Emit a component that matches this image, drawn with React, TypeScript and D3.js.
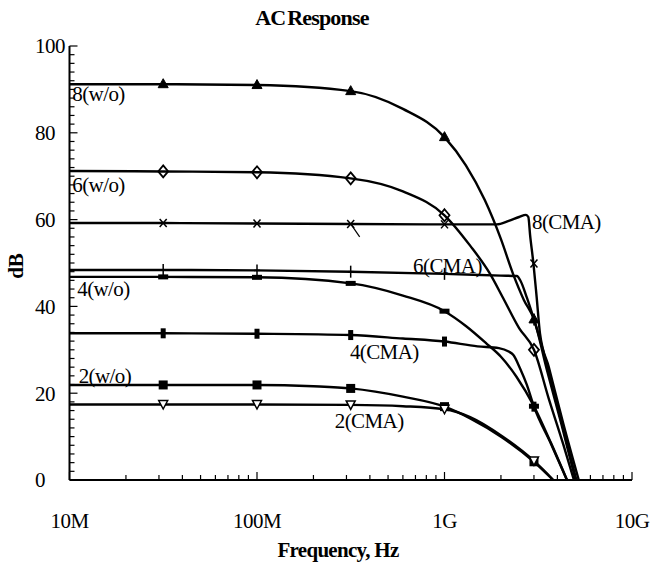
import React from "react";
import * as d3 from "d3";

const W = 650;
const H = 569;

// Axis ticks
const xTickValues = [1e7, 1e8, 1e9, 1e10];
const xTickLabels = ["10M", "100M", "1G", "10G"];
const yTickValues = [0, 20, 40, 60, 80, 100];

// Marker frequencies (same for all series)
const markerFreqs = [3.16e7, 1e8, 3.16e8, 1e9, 3e9];

// Curves: [frequency Hz, dB]
const curve8wo: [number, number][] = [
  [1e7, 91.2], [3.16e7, 91.2], [1e8, 91.0], [3.16e8, 89.6], [6e8, 85.5], [1e9, 79],
  [1.3e9, 72.5], [1.64e9, 64.5], [2e9, 55.5], [2.32e9, 47.5], [2.65e9, 41.5], [3e9, 37],
  [3.5e9, 25.7], [4.2e9, 12.9], [5e9, 0],
];
const marks8wo = [91.2, 91.0, 89.6, 79, 37];

const curve6wo: [number, number][] = [
  [1e7, 71.2], [3.16e7, 71.1], [1e8, 70.9], [3.16e8, 69.5], [6e8, 66.5], [1e9, 61],
  [1.37e9, 54], [1.75e9, 47.5], [2.05e9, 42], [2.5e9, 35], [3e9, 30], [3.6e9, 18.7],
  [4.3e9, 8.2], [4.9e9, 0],
];
const marks6wo = [71.1, 70.9, 69.5, 61, 30];

const curve8cma: [number, number][] = [
  [1e7, 59.2], [3.16e7, 59.2], [1e8, 59.1], [3.16e8, 59.0], [1e9, 58.9], [1.9e9, 58.9],
  [2.2e9, 59.7], [2.5e9, 60.6], [2.72e9, 61.1], [2.8e9, 60.6], [2.86e9, 56.5], [2.98e9, 49.9],
  [3.1e9, 42.2], [3.23e9, 33.8], [3.6e9, 26], [4.3e9, 13], [5.2e9, 0],
];
const marks8cma = [59.2, 59.1, 59.0, 58.9, 49.9];

const curve6cma: [number, number][] = [
  [1e7, 48.4], [3.16e7, 48.4], [1e8, 48.3], [3.16e8, 48.0], [1e9, 47.5], [2e9, 47.1],
  [2.43e9, 47.0], [2.55e9, 45.8], [2.75e9, 42], [3e9, 37], [3.3e9, 31], [3.8e9, 20.9],
  [4.4e9, 10.1], [5.05e9, 0],
];
const marks6cma = [48.4, 48.3, 48.0, 47.5, 37];

const curve4wo: [number, number][] = [
  [1e7, 46.8], [3.16e7, 46.8], [1e8, 46.7], [3.16e8, 45.3], [6e8, 42.5], [1e9, 38.9],
  [1.3e9, 35.5], [1.67e9, 31.5], [2e9, 28.4], [2.42e9, 23.8], [3e9, 17], [3.7e9, 8.5],
  [4.5e9, 0],
];
const marks4wo = [46.8, 46.7, 45.3, 38.9, 17];

const curve4cma: [number, number][] = [
  [1e7, 33.8], [3.16e7, 33.8], [1e8, 33.7], [3.16e8, 33.4], [6e8, 32.6], [1e9, 31.9],
  [1.5e9, 30.8], [1.95e9, 30.4], [2.2e9, 29.6], [2.33e9, 28.8], [2.53e9, 25.7],
  [2.75e9, 21.9], [3e9, 16.9], [3.7e9, 8.3], [4.5e9, 0],
];
const marks4cma = [33.8, 33.7, 33.4, 31.9, 16.9];

const curve2wo: [number, number][] = [
  [1e7, 21.9], [3.16e7, 21.9], [1e8, 21.9], [2e8, 21.6], [3.16e8, 21.1], [6e8, 19.2],
  [1e9, 16.9], [1.37e9, 14.2], [2.03e9, 9.8], [3e9, 4.2], [3.8e9, 0],
];
const marks2wo = [21.9, 21.9, 21.1, 16.9, 4.2];

const curve2cma: [number, number][] = [
  [1e7, 17.4], [3.16e7, 17.4], [1e8, 17.4], [3.16e8, 17.3], [6e8, 17.0], [1e9, 16.3],
  [1.37e9, 14.5], [2.03e9, 10.1], [3e9, 4.4], [3.8e9, 0],
];
const marks2cma = [17.4, 17.4, 17.3, 16.3, 4.4];

// Curve labels anchored in data coordinates
const labelTexts = ["8(w/o)", "6(w/o)", "4(w/o)", "2(w/o)", "8(CMA)", "6(CMA)", "4(CMA)", "2(CMA)"];
const labelFreqs = [1.035e7, 1.035e7, 1.1e7, 1.12e7, 2.93e9, 6.8e8, 3.13e8, 2.6e8];
const labelDbs = [87.3, 66.4, 42.4, 22.4, 57.8, 47.7, 27.9, 12.0];

type MType = "triUp" | "diamond" | "x" | "plus" | "hbar" | "vbar" | "square" | "triDown";

const series: { pts: [number, number][]; marks: number[]; type: MType }[] = [
  { pts: curve8wo, marks: marks8wo, type: "triUp" },
  { pts: curve6wo, marks: marks6wo, type: "diamond" },
  { pts: curve8cma, marks: marks8cma, type: "x" },
  { pts: curve6cma, marks: marks6cma, type: "plus" },
  { pts: curve4wo, marks: marks4wo, type: "hbar" },
  { pts: curve4cma, marks: marks4cma, type: "vbar" },
  { pts: curve2wo, marks: marks2wo, type: "square" },
  { pts: curve2cma, marks: marks2cma, type: "triDown" },
];

const x = d3.scaleLog().domain([1e7, 1e10]).range([69.5, 632]);
const y = d3.scaleLinear().domain([0, 100]).range([480, 46]);

const line = d3
  .line<[number, number]>()
  .x((d) => x(d[0]))
  .y((d) => y(d[1]))
  .curve(d3.curveMonotoneX);

const FONT = '"Liberation Serif"';

function Marker({ type, cx, cy }: { type: MType; cx: number; cy: number }) {
  const s = { stroke: "#000", strokeWidth: 1.8 };
  switch (type) {
    case "triUp":
      return <polygon points={`${cx},${cy - 5.5} ${cx - 5},${cy + 3.5} ${cx + 5},${cy + 3.5}`} fill="#000" {...s} strokeWidth={1} />;
    case "diamond":
      return <polygon points={`${cx},${cy - 6} ${cx + 5},${cy} ${cx},${cy + 6} ${cx - 5},${cy}`} fill="none" {...s} />;
    case "x":
      return (
        <g {...s} strokeWidth={1.5}>
          <line x1={cx - 3.5} y1={cy - 4} x2={cx + 3.5} y2={cy + 4} />
          <line x1={cx - 3.5} y1={cy + 4} x2={cx + 3.5} y2={cy - 4} />
        </g>
      );
    case "plus":
      return (
        <g {...s} strokeWidth={1.5}>
          <line x1={cx} y1={cy - 6} x2={cx} y2={cy + 6} />
          <line x1={cx - 3} y1={cy} x2={cx + 3} y2={cy} />
        </g>
      );
    case "hbar":
      return <rect x={cx - 5} y={cy - 2.5} width={10} height={5} fill="#000" />;
    case "vbar":
      return <rect x={cx - 2.5} y={cy - 5} width={5} height={10} fill="#000" />;
    case "square":
      return <rect x={cx - 4.5} y={cy - 4.5} width={9} height={9} fill="#000" />;
    case "triDown":
      return <polygon points={`${cx - 4.5},${cy - 4} ${cx + 4.5},${cy - 4} ${cx},${cy + 4.5}`} fill="#fff" {...s} strokeWidth={1.5} />;
  }
  return null;
}

export default function App() {
  const x0 = x(1e7);
  const y0 = y(0);

  const yMinor = d3.range(0, 101, 2);
  const xMinor: number[] = [];
  for (let e = 7; e < 10; e++) {
    for (let m = 1; m <= 9; m++) xMinor.push(m * Math.pow(10, e));
  }
  xMinor.push(1e10);

  return (
    <svg width={W} height={H} style={{ position: "absolute", left: 0, top: 0, background: "#fff" }}>
      <rect width={W} height={H} fill="#fff" />
      {/* Title */}
      <text x={312} y={25} textAnchor="middle" style={{ fontFamily: FONT, fontSize: 22, fontWeight: "bold", letterSpacing: "-0.8px", wordSpacing: "-3px" }}>
        AC Response
      </text>

      {/* Axes */}
      <line x1={x0} y1={y(100)} x2={x0} y2={y0} stroke="#000" strokeWidth={2} />
      <line x1={x0} y1={y0} x2={x(1e10)} y2={y0} stroke="#000" strokeWidth={2} />

      {yMinor.map((v) => (
        <line key={"yt" + v} x1={x0} x2={x0 + (v % 20 === 0 ? 8 : 5)} y1={y(v)} y2={y(v)} stroke="#000" strokeWidth={1.2} />
      ))}
      {xMinor.map((v) => {
        const major = xTickValues.includes(v);
        return <line key={"xt" + v} x1={x(v)} x2={x(v)} y1={y0} y2={y0 - (major ? 8 : 5)} stroke="#000" strokeWidth={1.2} />;
      })}

      {yTickValues.map((v) => (
        <text key={"yl" + v} x={35} y={y(v)} dy="0.35em" style={{ fontFamily: FONT, fontSize: 21, letterSpacing: "-0.5px" }}>
          {v}
        </text>
      ))}
      {xTickValues.map((v, i) => (
        <text key={"xl" + v} x={x(v)} y={528} textAnchor="middle" style={{ fontFamily: FONT, fontSize: 21, letterSpacing: "-0.5px" }}>
          {xTickLabels[i]}
        </text>
      ))}

      {/* Axis titles */}
      <text x={338} y={557} textAnchor="middle" style={{ fontFamily: FONT, fontSize: 21, fontWeight: "bold", letterSpacing: "-0.7px" }}>
        Frequency, Hz
      </text>
      <text transform="translate(23,266) rotate(-90)" textAnchor="middle" style={{ fontFamily: FONT, fontSize: 21, fontWeight: "bold" }}>
        dB
      </text>

      {/* Curves */}
      {series.map((s, i) => (
        <path key={"c" + i} d={line(s.pts) || ""} fill="none" stroke="#000" strokeWidth={2.4} strokeLinejoin="round" />
      ))}
      {series.map((s, i) =>
        s.marks.map((m, j) => <Marker key={`m${i}-${j}`} type={s.type} cx={x(markerFreqs[j])} cy={y(m)} />)
      )}
      {/* small leader stroke near 8(CMA) marker */}
      <line x1={x(markerFreqs[2])} y1={y(marks8cma[2])} x2={x(markerFreqs[2]) + 9} y2={y(marks8cma[2]) + 13} stroke="#000" strokeWidth={1.2} />

      {/* Curve labels */}
      {labelTexts.map((t, i) => (
        <text key={"lb" + i} x={x(labelFreqs[i])} y={y(labelDbs[i])} style={{ fontFamily: FONT, fontSize: 21, letterSpacing: "-0.6px" }}>
          {t}
        </text>
      ))}
    </svg>
  );
}
